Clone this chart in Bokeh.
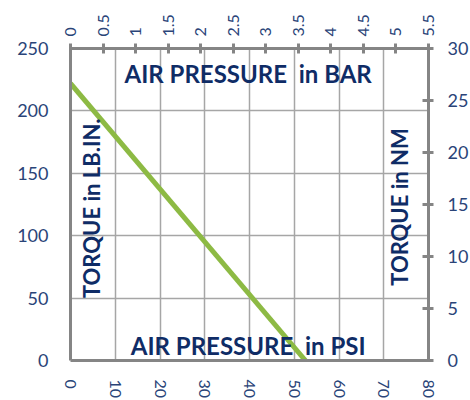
from bokeh.plotting import figure
from bokeh.models import Range1d, LinearAxis, FixedTicker, NumeralTickFormatter, Label
from bokeh.embed import file_html
from bokeh.resources import INLINE

# data
psi = [0, 52.5]
torque_lbin = [222, 0]
psi_ticks = [0, 10, 20, 30, 40, 50, 60, 70, 80]
lbin_ticks = [0, 50, 100, 150, 200, 250]
bar_ticks = [0, 0.5, 1, 1.5, 2, 2.5, 3, 3.5, 4, 4.5, 5, 5.5]
nm_ticks = [0, 5, 10, 15, 20, 25, 30]

NAVY = "#0f2c66"
TICKC = "#2a4478"
AXC = "#858585"
GRIDC = "#a6a6a6"
FONT = "Lato"

p = figure(frame_width=358, frame_height=312, output_backend="svg", toolbar_location=None,
           x_range=Range1d(0, 80), y_range=Range1d(0, 250),
           min_border_left=70, min_border_top=48, min_border_right=42, min_border_bottom=40)
p.outline_line_color = None
p.background_fill_color = "white"
p.border_fill_color = "white"

bottom = p.below[0]
left = p.left[0]

p.extra_x_ranges = {"bar": Range1d(0, 5.5)}
p.extra_y_ranges = {"nm": Range1d(0, 30)}

bottom.ticker = FixedTicker(ticks=psi_ticks)
left.ticker = FixedTicker(ticks=lbin_ticks)

top = LinearAxis(x_range_name="bar", ticker=FixedTicker(ticks=bar_ticks),
                 formatter=NumeralTickFormatter(format="0.[0]"))
right = LinearAxis(y_range_name="nm", ticker=FixedTicker(ticks=nm_ticks))
p.add_layout(top, "above")
p.add_layout(right, "right")

for ax in [bottom, left, top, right]:
    ax.axis_line_color = AXC
    ax.axis_line_width = 3
    ax.major_tick_line_color = AXC
    ax.major_tick_line_width = 3
    ax.minor_tick_line_color = None
    ax.major_label_text_color = TICKC
    ax.major_label_text_font = FONT
    ax.major_label_text_font_size = "18px"

bottom.major_label_text_font_size = "16px"
top.major_label_text_font_size = "16px"
bottom.major_tick_line_color = None
left.major_tick_line_color = None
bottom.major_label_orientation = "vertical"
top.major_label_orientation = "vertical"
bottom.major_label_standoff = 13
left.major_label_standoff = 16
top.major_tick_in = 5
top.major_tick_out = 5
top.major_label_standoff = 7
right.major_tick_in = 6
right.major_tick_out = 5
right.major_label_standoff = 14

p.xgrid.grid_line_color = GRIDC
p.ygrid.grid_line_color = GRIDC
p.xgrid.grid_line_width = 1.5
p.ygrid.grid_line_width = 1.5

p.line(psi, torque_lbin, line_color="#8dba44", line_width=5)

def lab(text, x, y, angle=0, size="24px"):
    p.add_layout(Label(x=x, y=y, text=text, angle=angle, text_font=FONT, text_font_style="bold",
                       text_font_size=size, text_color=NAVY, text_align="center",
                       text_baseline="middle"))

lab("AIR PRESSURE\u00a0 in BAR", 39.7, 229.6)
lab("AIR PRESSURE\u00a0 in PSI", 39.7, 12.4)
lab("TORQUE in LB.IN.", 4.7, 122, angle=1.5708, size="22px")
lab("TORQUE in NM", 73.5, 123, angle=1.5708, size="22px")

open("out.html", "w").write(file_html(p, INLINE))
